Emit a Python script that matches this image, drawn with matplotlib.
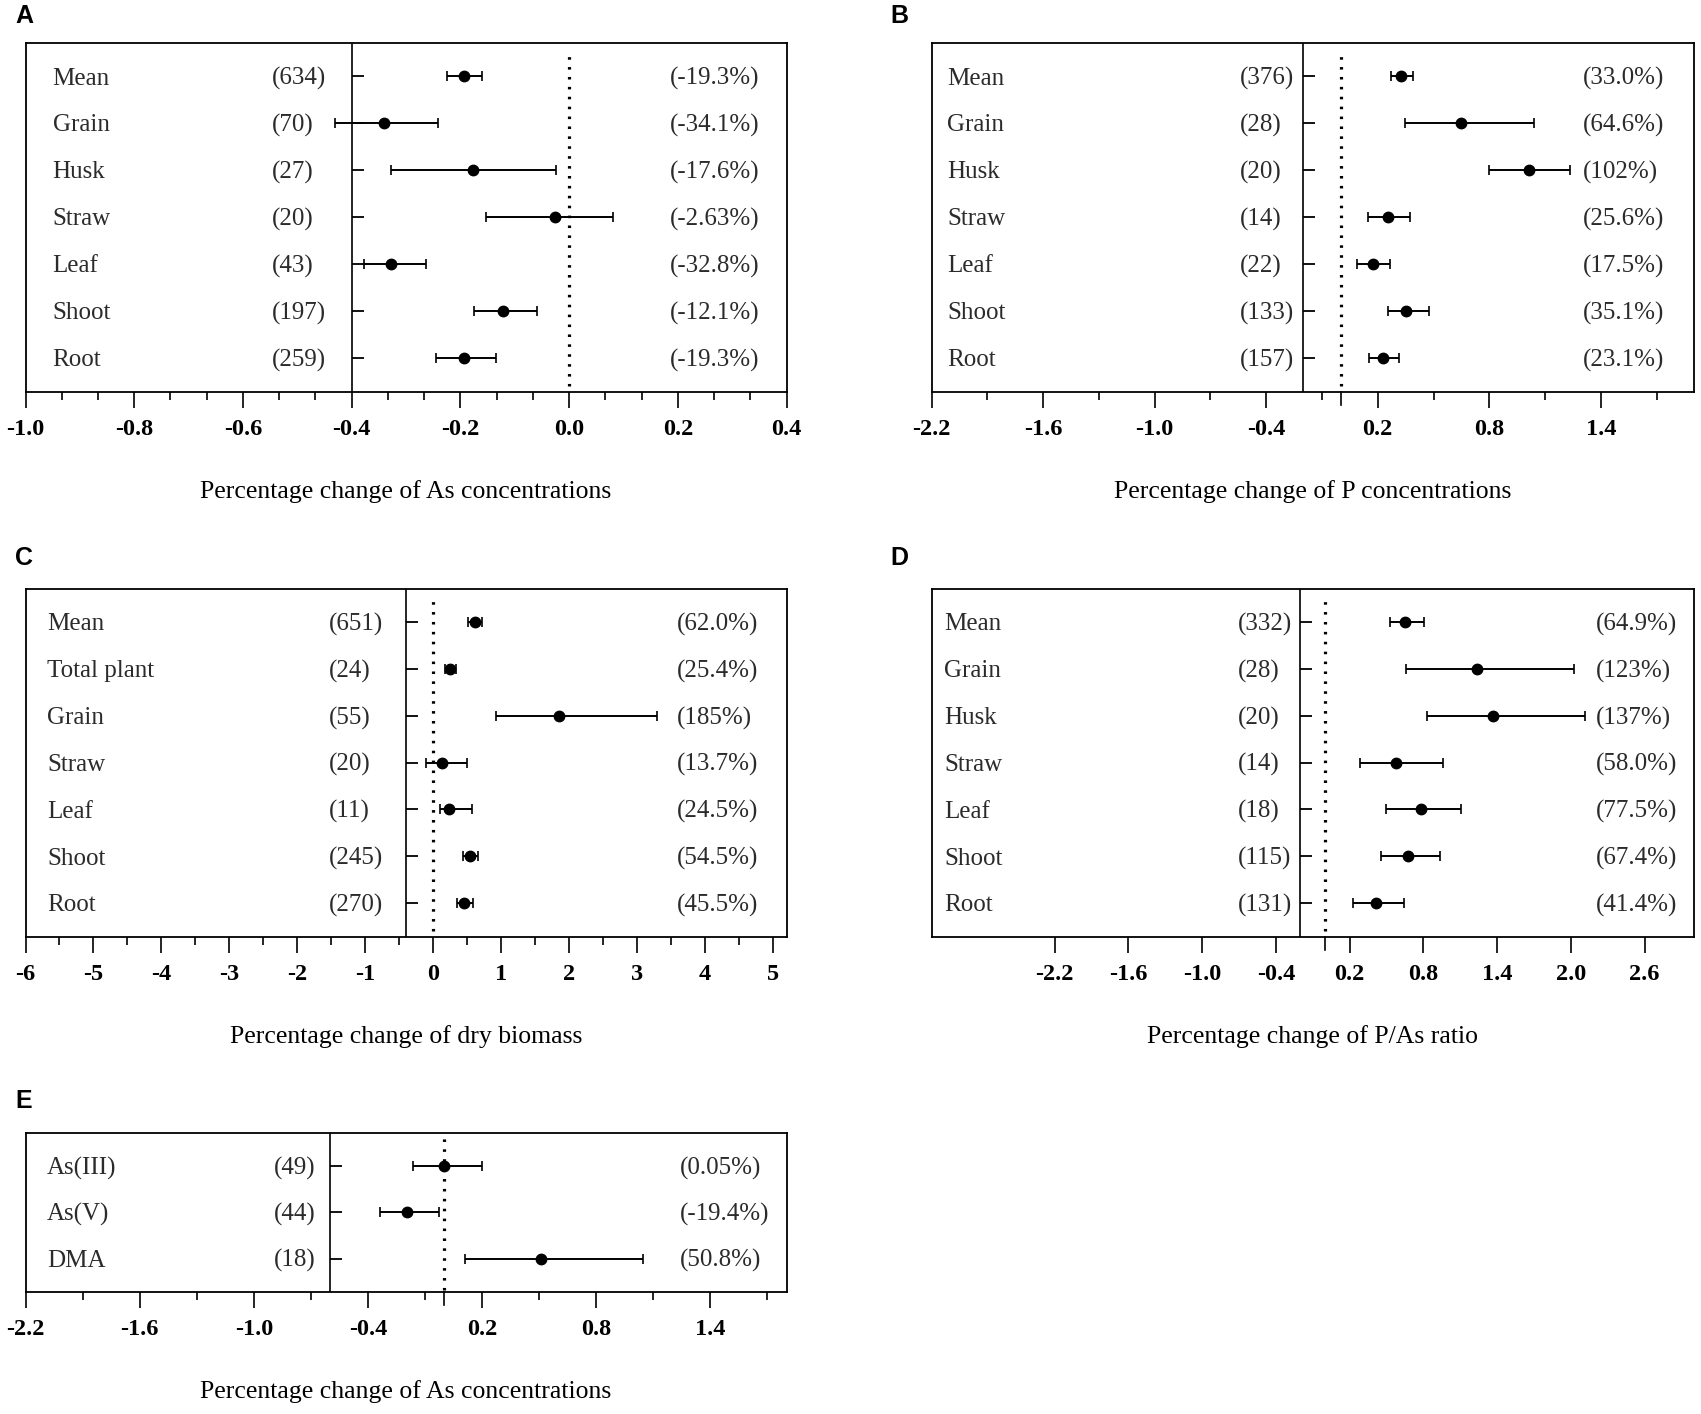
import numpy as np
import matplotlib
matplotlib.use("Agg")
import matplotlib.pyplot as plt

plt.rcParams['font.family'] = ['Liberation Serif', 'DejaVu Serif']
plt.rcParams['axes.unicode_minus'] = False

####DATA######
# A: As concentrations by tissue
a_labels = ['Mean', 'Grain', 'Husk', 'Straw', 'Leaf', 'Shoot', 'Root']
a_n = [634, 70, 27, 20, 43, 197, 259]
a_est = [-0.193, -0.341, -0.176, -0.026, -0.328, -0.122, -0.193]
a_lo = [-0.225, -0.430, -0.328, -0.153, -0.378, -0.174, -0.245]
a_hi = [-0.160, -0.242, -0.024, 0.081, -0.264, -0.059, -0.135]
a_pct = ['(-19.3%)', '(-34.1%)', '(-17.6%)', '(-2.63%)', '(-32.8%)', '(-12.1%)', '(-19.3%)']
a_ticks = ['-1.0', '-0.8', '-0.6', '-0.4', '-0.2', '0.0', '0.2', '0.4']

# B: P concentrations
b_labels = ['Mean', 'Grain', 'Husk', 'Straw', 'Leaf', 'Shoot', 'Root']
b_n = [376, 28, 20, 14, 22, 133, 157]
b_est = [0.327, 0.646, 1.013, 0.256, 0.173, 0.350, 0.229]
b_lo = [0.270, 0.347, 0.800, 0.149, 0.087, 0.253, 0.152]
b_hi = [0.392, 1.040, 1.235, 0.371, 0.267, 0.474, 0.312]
b_pct = ['(33.0%)', '(64.6%)', '(102%)', '(25.6%)', '(17.5%)', '(35.1%)', '(23.1%)']
b_ticks = ['-2.2', '-1.6', '-1.0', '-0.4', '0.2', '0.8', '1.4']

# C: dry biomass
c_labels = ['Mean', 'Total plant', 'Grain', 'Straw', 'Leaf', 'Shoot', 'Root']
c_n = [651, 24, 55, 20, 11, 245, 270]
c_est = [0.622, 0.246, 1.845, 0.134, 0.239, 0.539, 0.456]
c_lo = [0.517, 0.180, 0.930, -0.107, 0.096, 0.440, 0.350]
c_hi = [0.719, 0.330, 3.287, 0.500, 0.570, 0.667, 0.584]
c_pct = ['(62.0%)', '(25.4%)', '(185%)', '(13.7%)', '(24.5%)', '(54.5%)', '(45.5%)']
c_ticks = ['-6', '-5', '-4', '-3', '-2', '-1', '0', '1', '2', '3', '4', '5']

# D: P/As ratio
d_labels = ['Mean', 'Grain', 'Husk', 'Straw', 'Leaf', 'Shoot', 'Root']
d_n = [332, 28, 20, 14, 18, 115, 131]
d_est = [0.650, 1.238, 1.371, 0.579, 0.779, 0.675, 0.417]
d_lo = [0.529, 0.663, 0.833, 0.288, 0.500, 0.458, 0.229]
d_hi = [0.808, 2.025, 2.113, 0.963, 1.104, 0.933, 0.642]
d_pct = ['(64.9%)', '(123%)', '(137%)', '(58.0%)', '(77.5%)', '(67.4%)', '(41.4%)']
d_ticks = ['-2.2', '-1.6', '-1.0', '-0.4', '0.2', '0.8', '1.4', '2.0', '2.6']

# E: As species
e_labels = ['As(III)', 'As(V)', 'DMA']
e_n = [49, 44, 18]
e_est = [0.000, -0.194, 0.508]
e_lo = [-0.164, -0.336, 0.109]
e_hi = [0.198, -0.027, 1.047]
e_pct = ['(0.05%)', '(-19.4%)', '(50.8%)']
e_ticks = ['-2.2', '-1.6', '-1.0', '-0.4', '0.2', '0.8', '1.4']
#--------------------

W, H = 1701, 1414
TXT = '#2b2b2b'


def forest(ax, labels, ns, est, lo, hi, pct, ticklabels, xlim, sep,
           tx, minor_step, xlabel, zero_tick=False):
    n = len(labels)
    y = np.arange(n)[::-1]
    est = np.array(est); lo = np.array(lo); hi = np.array(hi)
    ax.set_xlim(*xlim)
    ax.set_ylim(-0.72, n - 1 + 0.70)
    h_px = ax.get_position().height * H

    # separator and reference line
    ax.axvline(sep, color='k', lw=1.2)
    ax.axvline(0, ymin=0.015, ymax=0.975, color='k', lw=2.3,
               linestyle=(0, (0.8, 2.3)))
    if zero_tick:
        ax.axvline(0, ymin=-13 / h_px, ymax=0, color='k', lw=1.2, clip_on=False)
    # row ticks on separator
    ax.plot([sep] * n, y, linestyle='none', marker=1, markersize=8.5,
            markeredgewidth=1.3, color='k', clip_on=False)

    ax.errorbar(est, y, xerr=[est - lo, hi - est], fmt='o', color='k',
                ms=7.5, elinewidth=1.4, capsize=3.8, capthick=1.2)

    for yi, lab, nn, p in zip(y, labels, ns, pct):
        yt = yi - 0.05
        ax.text(tx[0], yt, lab, ha='left', va='center', fontsize=18, color=TXT)
        ax.text(tx[1], yt, f'({nn})', ha='left', va='center', fontsize=18, color=TXT)
        ax.text(tx[2], yt, p, ha='left', va='center', fontsize=18, color=TXT)

    major = [float(t) for t in ticklabels]
    ax.set_xticks(major)
    ax.set_xticklabels(ticklabels, fontsize=17.5, fontweight='bold')
    if minor_step:
        step = major[1] - major[0]
        mins = []
        for m in major:
            k = 1
            while k * minor_step < step - 1e-9:
                v = m + k * minor_step
                if v <= xlim[1] + 1e-9:
                    mins.append(v)
                k += 1
        ax.set_xticks(mins, minor=True)
    ax.set_yticks([])
    ax.tick_params(axis='x', which='major', length=11.5, width=1.2, pad=8)
    ax.tick_params(axis='x', which='minor', length=5.8, width=1.2)
    for s in ax.spines.values():
        s.set_linewidth(1.3)
    ax.annotate(xlabel, xy=(0.5, 0), xycoords='axes fraction', xytext=(0, -72),
                textcoords='offset points', ha='center', va='center', fontsize=18.5)


fig = plt.figure(figsize=(W / 100, H / 100), dpi=100)

axA = fig.add_axes([25.5 / W, 1 - 391.7 / H, 761 / W, 348.4 / H])
axB = fig.add_axes([931.7 / W, 1 - 391.7 / H, 762 / W, 348.4 / H])
axC = fig.add_axes([25.5 / W, 1 - 936.7 / H, 761 / W, 347.4 / H])
axD = fig.add_axes([931.7 / W, 1 - 936.7 / H, 762 / W, 347.4 / H])
axE = fig.add_axes([25.5 / W, 1 - 1292 / H, 761 / W, 158.7 / H])

forest(axA, a_labels, a_n, a_est, a_lo, a_hi, a_pct, a_ticks, (-1.0, 0.4), -0.4,
       (-0.95, -0.547, 0.185), 0.2 / 3, 'Percentage change of As concentrations')
forest(axB, b_labels, b_n, b_est, b_lo, b_hi, b_pct, b_ticks, (-2.2, 1.9), -0.2,
       (-2.117, -0.54, 1.306), 0.3, 'Percentage change of P concentrations', True)
forest(axC, c_labels, c_n, c_est, c_lo, c_hi, c_pct, c_ticks, (-6, 5.2), -0.4,
       (-5.68, -1.53, 3.59), 0.5, 'Percentage change of dry biomass')
forest(axD, d_labels, d_n, d_est, d_lo, d_hi, d_pct, d_ticks, (-3.2, 3.0), -0.2,
       (-3.096, -0.708, 2.20), None, 'Percentage change of P/As ratio', True)
forest(axE, e_labels, e_n, e_est, e_lo, e_hi, e_pct, e_ticks, (-2.2, 1.8), -0.6,
       (-2.087, -0.893, 1.242), 0.3, 'Percentage change of As concentrations', True)

# panel letters
for lab, x, y in [('A', 15, 16), ('B', 890, 16), ('C', 15, 558),
                  ('D', 890, 558), ('E', 15, 1101)]:
    fig.text(x / W, 1 - y / H, lab, ha='left', va='center', fontsize=18,
             fontweight='bold', family=['Liberation Sans', 'DejaVu Sans'])

fig.savefig('out.png', dpi=100)
